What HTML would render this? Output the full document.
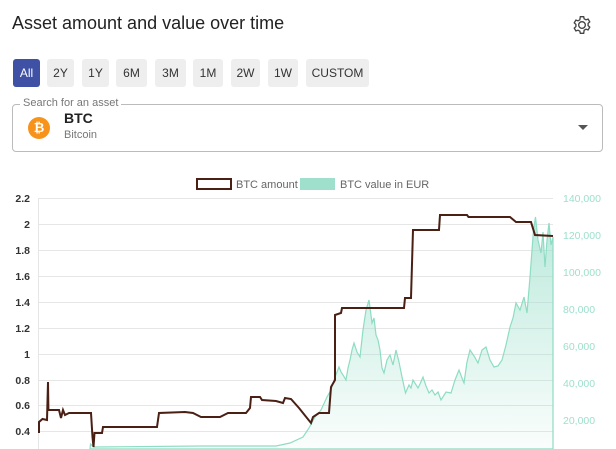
<!DOCTYPE html>
<html><head><style>
body{margin:0;width:616px;height:449px;overflow:hidden;background:#fff;font-family:"Liberation Sans",sans-serif;position:relative}
.t{position:absolute;left:12px;top:13px;font-size:18px;color:#222}
.b{position:absolute;top:59px;height:28px;line-height:28px;text-align:center;font-size:12px;color:#333;background:#eee;border-radius:3px}
.b.a{background:#3f51a5;color:#fff}
</style></head><body>
<div class="t">Asset amount and value over time</div>
<svg style="position:absolute;left:572px;top:15px" width="20" height="20" viewBox="0 0 24 24"><path d="M12 8a4 4 0 1 0 0 8a4 4 0 1 0 0-8z M10 2h4l.6 2.6 2.2 1.2 2.5-.9 2 3.4-2 1.8v2.6l2 1.8-2 3.4-2.5-.9-2.2 1.2L14 22h-4l-.6-2.6-2.2-1.2-2.5.9-2-3.4 2-1.8V11.3l-2-1.8 2-3.4 2.5.9 2.2-1.2z" fill="none" stroke="#444" stroke-width="1.6"/></svg>
<div class="b a" style="left:13px;width:27px">All</div>
<div class="b" style="left:47px;width:27px">2Y</div>
<div class="b" style="left:82px;width:27px">1Y</div>
<div class="b" style="left:116px;width:31px">6M</div>
<div class="b" style="left:155px;width:31px">3M</div>
<div class="b" style="left:193px;width:30px">1M</div>
<div class="b" style="left:231px;width:29px">2W</div>
<div class="b" style="left:268px;width:30px">1W</div>
<div class="b" style="left:306px;width:63px">CUSTOM</div>
<div style="position:absolute;left:12px;top:104px;width:589px;height:46px;border:1px solid #bbb;border-radius:4px"></div>
<div style="position:absolute;left:20px;top:97px;background:#fff;padding:0 3px;font-size:11px;color:#777">Search for an asset</div>
<div style="position:absolute;left:28px;top:117px;width:22px;height:22px;border-radius:50%;background:#f7931a;color:#fff;font-size:13px;font-weight:bold;text-align:center;line-height:22px">₿</div>
<div style="position:absolute;left:64px;top:110px;font-size:14px;font-weight:bold;color:#222">BTC</div>
<div style="position:absolute;left:64px;top:129px;font-size:11px;color:#777">Bitcoin</div>
<div style="position:absolute;left:578px;top:125px;width:0;height:0;border-left:5px solid transparent;border-right:5px solid transparent;border-top:5px solid #555"></div>
<svg style="position:absolute;left:0;top:0" width="616" height="449" font-family="Liberation Sans" font-size="11">
<defs><linearGradient id="g" x1="0" y1="200" x2="0" y2="449" gradientUnits="userSpaceOnUse"><stop offset="0" stop-color="#9ee0cc" stop-opacity=".75"/><stop offset="1" stop-color="#9ee0cc" stop-opacity=".05"/></linearGradient></defs>
<rect x="197" y="179" width="34" height="10" fill="none" stroke="#4a1f14" stroke-width="2"/>
<text x="236" y="188" fill="#666">BTC amount</text>
<rect x="300" y="178" width="35" height="12" fill="#9ee0cc"/>
<text x="340" y="188" fill="#666">BTC value in EUR</text>
<g stroke="#e6e6e6" stroke-width="1">
<line x1="38" x2="553" y1="198.5" y2="198.5"/><line x1="38" x2="553" y1="224.5" y2="224.5"/><line x1="38" x2="553" y1="250.5" y2="250.5"/><line x1="38" x2="553" y1="276.5" y2="276.5"/><line x1="38" x2="553" y1="302.5" y2="302.5"/><line x1="38" x2="553" y1="328.5" y2="328.5"/><line x1="38" x2="553" y1="354.5" y2="354.5"/><line x1="38" x2="553" y1="380.5" y2="380.5"/><line x1="38" x2="553" y1="405.5" y2="405.5"/><line x1="38" x2="553" y1="431.5" y2="431.5"/>
<line x1="38.5" x2="38.5" y1="198" y2="449"/>
</g>
<g fill="#333" text-anchor="end" font-weight="bold" font-size="10.5">
<text x="30" y="202">2.2</text><text x="30" y="228">2</text><text x="30" y="254">1.8</text><text x="30" y="280">1.6</text><text x="30" y="306">1.4</text><text x="30" y="332">1.2</text><text x="30" y="358">1</text><text x="30" y="384">0.8</text><text x="30" y="409">0.6</text><text x="30" y="435">0.4</text>
</g>
<g fill="#9ee0cc" font-size="10.5">
<text x="563" y="202">140,000</text><text x="563" y="239">120,000</text><text x="563" y="276">100,000</text><text x="563" y="313">80,000</text><text x="563" y="350">60,000</text><text x="563" y="387">40,000</text><text x="563" y="424">20,000</text>
</g>
<path d="M90,449 L90.5,444 L94,447 L201,446 L276,446 L290,443 L303,437 L309,428 L315,417 L321,410 L327,397 L331,390 L335,377 L339,367 L341,372 L343,375 L346,380 L348,368 L350,360 L352,350 L354,343 L357,352 L360,357 L363,330 L366,310 L369,300 L372,323 L374,318 L376,335 L378,340 L380,350 L382,368 L384,373 L387,360 L390,355 L393,365 L396,350 L399,362 L402,377 L405.5,393 L409,385 L411,388 L413,380 L418,388 L420,384 L423,377 L426,386 L429,393 L432,390 L435,395 L438,392 L441,400 L446,392 L451,393 L455,380 L459,370 L462,378 L464,383 L467,362 L470,350 L474,356 L478,363 L482,350 L486,347 L490,360 L494,367 L498,366 L502,360 L506,345 L510,327 L513,318 L516,303 L520,310 L524,297 L527,313 L530,277 L533.5,230 L535.5,217 L538,240 L541,253 L543,232 L545,267 L547,240 L549,223 L551,245 L553,237 L553,449 Z" fill="url(#g)" stroke="#8edcc3" stroke-width="1.2"/>
<path d="M39,433 L39,422 L42.5,419 L47,420 L48,382 L48.4,410 L59,410 L61,418 L63,410 L65,415 L69,413 L91,413 L92.5,437 L93.5,447 L94.5,433 L102,433 L103,427 L157,427 L159,413 L185,412 L193,413 L201,417 L220,417 L228,413 L246,413 L250,408 L251,397 L260,397 L262,400 L276,401 L283,403 L285,398 L291,399 L299,408 L311,423 L313,417 L319,413 L329,413 L331,387 L335,380 L335,315 L341,313 L342,308 L404,308 L405,298 L411,298 L413,230 L439,230 L440,215 L467,215 L468.5,217 L510,217 L516,222 L531,222 L535,235 L553,236" fill="none" stroke="#4a1f14" stroke-width="2"/>
</svg>
</body></html>
